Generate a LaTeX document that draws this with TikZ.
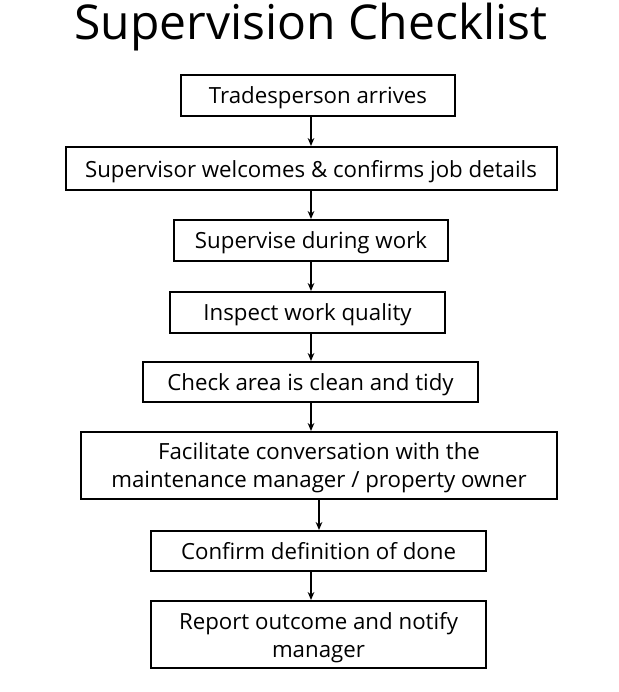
\documentclass[tikz,border=0pt]{standalone}
\usepackage{fontspec}
\setmainfont{Open Sans}
\usepackage{tikz}
\usetikzlibrary{arrows.meta}

\begin{document}
\begin{tikzpicture}[
    x=0.75pt,
    y=-0.75pt,
    stepbox/.style={
        draw=black,
        line width=1.5pt,
        fill=white,
        align=center,
        inner sep=0pt,
        text depth=0pt,
        font=\fontsize{16.7}{21}\selectfont
    },
    arrow/.style={
        -{Stealth[length=6pt,width=5pt]},
        line width=1.1pt,
        color=black
    }
]
    \useasboundingbox (0,0) rectangle (618,692);

    % ---------------------------------------------------------
    % TITLE
    % ---------------------------------------------------------
    \node[font=\fontsize{36}{44}\selectfont, anchor=base, inner sep=0pt] (title) at (311,40) {Supervision Checklist};

    % ---------------------------------------------------------
    % THE STEPS
    % ---------------------------------------------------------
    \node[stepbox, minimum width=205.5pt, minimum height=30.75pt] (arrive) at (318,95.5) {Tradesperson arrives};
    \node[stepbox, minimum width=368.25pt, minimum height=32.25pt] (welcome) at (311,168.5) {Supervisor welcomes \& confirms job details};
    \node[stepbox, minimum width=205.5pt, minimum height=30.75pt] (supervise) at (311,240.5) {Supervise during work};
    \node[stepbox, minimum width=206.25pt, minimum height=30.75pt] (inspect) at (307.5,312.5) {Inspect work quality};
    \node[stepbox, minimum width=251.25pt, minimum height=30pt] (tidy) at (310.5,382) {Check area is clean and tidy};
    \node[stepbox, minimum width=357pt, minimum height=50.25pt] (talk) at (319,465.5) {Facilitate conversation with the\\maintenance manager / property owner};
    \node[stepbox, minimum width=251.25pt, minimum height=30pt] (done) at (318.5,551) {Confirm definition of done};
    \node[stepbox, minimum width=251.25pt, minimum height=50.25pt] (report) at (318.5,634.5) {Report outcome and notify\\manager};

    % ---------------------------------------------------------
    % ARROWS
    % ---------------------------------------------------------
    \coordinate (lane) at (311,0);
    \coordinate (lane2) at (319,0);

    \draw[arrow] (arrive.south -| lane) -- (welcome.north -| lane);
    \draw[arrow] (welcome.south -| lane) -- (supervise.north -| lane);
    \draw[arrow] (supervise.south -| lane) -- (inspect.north -| lane);
    \draw[arrow] (inspect.south -| lane) -- (tidy.north -| lane);
    \draw[arrow] (tidy.south -| lane) -- (talk.north -| lane);
    \draw[arrow] (talk.south -| lane2) -- (done.north -| lane2);
    \draw[arrow] (done.south -| lane) -- (report.north -| lane);

\end{tikzpicture}
\end{document}
